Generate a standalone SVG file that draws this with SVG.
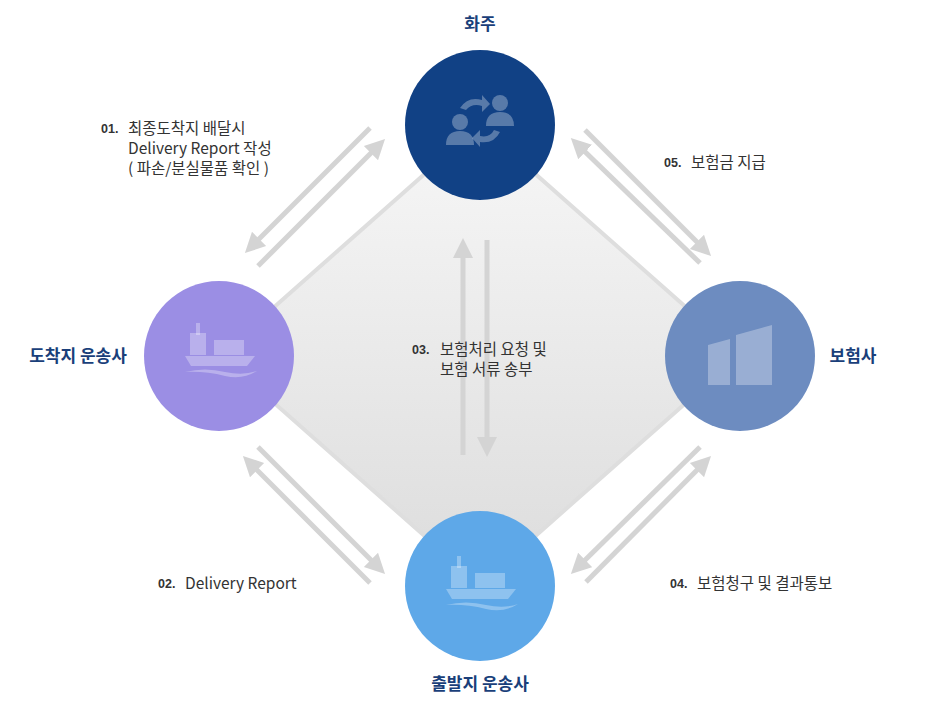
<svg xmlns="http://www.w3.org/2000/svg" width="940" height="710" viewBox="0 0 940 710">
<style>
.lbl{font-family:"Noto Sans CJK KR","Noto Sans",sans-serif;font-size:15.5px;fill:#333}
.num{font-family:"Liberation Sans",sans-serif;font-weight:bold;font-size:12.5px;fill:#333}
.ttl{font-family:"Noto Sans CJK KR",sans-serif;font-weight:bold;font-size:17px;fill:#1a3f7a}
.ar{stroke:#d4d4d4;stroke-width:5;fill:none;marker-end:url(#ah)}
.ic{fill:#ffffff;fill-opacity:0.3}
</style>
<defs>
<marker id="ah" viewBox="0 0 10 10" refX="5" refY="5" markerWidth="4" markerHeight="4.4" orient="auto" markerUnits="strokeWidth"><path d="M0,0L10,5L0,10z" fill="#d4d4d4"/></marker>
<linearGradient id="dg" x1="0" y1="0" x2="0" y2="1"><stop offset="0" stop-color="#f7f7f7"/><stop offset="1" stop-color="#dcdcdc"/></linearGradient>
</defs>
<rect width="940" height="710" fill="#fff"/>
<polygon points="480,125 740,355 480,585 220,355" fill="url(#dg)" stroke="#dedede" stroke-width="4"/>
<g id="connectors">
<line class="ar" x1="370" y1="128" x2="252" y2="246"/>
<line class="ar" x1="258" y1="266" x2="378" y2="146"/>
<line class="ar" x1="585" y1="130" x2="704" y2="249"/>
<line class="ar" x1="700" y1="263" x2="578" y2="145"/>
<line class="ar" x1="258" y1="447" x2="378" y2="567"/>
<line class="ar" x1="370" y1="583" x2="250" y2="463"/>
<line class="ar" x1="700" y1="447" x2="578" y2="567"/>
<line class="ar" x1="586" y1="582" x2="704" y2="463"/>
<line class="ar" x1="463" y1="455" x2="463" y2="248"/>
<line class="ar" x1="487" y1="240" x2="487" y2="447"/>
</g>
<g id="n-owner">
<circle cx="480" cy="125" r="75" fill="#114185"/>
<g class="ic">
<circle cx="460" cy="122" r="8"/><path d="M446,145q0,-14 14,-14q14,0 14,14z"/>
<circle cx="500" cy="103" r="8"/><path d="M486,126q0,-14 14,-14q14,0 14,14z"/>
<path d="M460,108q8,-12 22,-8l0,-5l8,9l-8,8l0,-6q-10,-3 -16,4z"/>
<path d="M500,132q-6,12 -20,10l0,5l-8,-9l8,-8l0,6q10,2 14,-6z"/>
</g>
<text class="ttl" x="480" y="30" text-anchor="middle">화주</text>
</g>
<g id="n-dest">
<circle cx="219" cy="356" r="75" fill="#9b8ee4"/>
<g class="ic">
<rect x="196" y="323" width="4" height="12"/><rect x="190" y="333" width="16" height="22"/>
<rect x="214" y="340" width="30" height="15"/>
<path d="M185,356h70l-8,10h-56z"/>
<path d="M185,372q20,-5 40,0q18,4 32,-1q-14,9 -32,5q-20,-5 -40,-4z"/>
</g>
<text class="ttl" x="78" y="362" text-anchor="middle">도착지 운송사</text>
</g>
<g id="n-ins">
<circle cx="740" cy="356" r="75" fill="#6d8cc0"/>
<g class="ic">
<path d="M708,385v-40l22,-6v46z"/><path d="M736,385v-50l36,-10v60z"/>
</g>
<text class="ttl" x="853" y="362" text-anchor="middle">보험사</text>
</g>
<g id="n-origin">
<circle cx="480" cy="586" r="75" fill="#5ea8e8"/>
<g class="ic">
<rect x="457" y="556" width="4" height="12"/><rect x="451" y="566" width="16" height="22"/>
<rect x="475" y="573" width="30" height="15"/>
<path d="M446,589h70l-8,10h-56z"/>
<path d="M446,605q20,-5 40,0q18,4 32,-1q-14,9 -32,5q-20,-5 -40,-4z"/>
</g>
<text class="ttl" x="480" y="690" text-anchor="middle">출발지 운송사</text>
</g>
<g id="labels">
<text class="num" x="101" y="133">01.</text>
<text class="lbl" x="128" y="134">최종도착지 배달시</text>
<text class="lbl" x="128" y="154">Delivery Report 작성</text>
<text class="lbl" x="128" y="174">( 파손/분실물품 확인 )</text>
<text class="num" x="158" y="588">02.</text>
<text class="lbl" x="185" y="589">Delivery Report</text>
<text class="num" x="412" y="354">03.</text>
<text class="lbl" x="440" y="355">보험처리 요청 및</text>
<text class="lbl" x="440" y="375">보험 서류 송부</text>
<text class="num" x="670" y="588">04.</text>
<text class="lbl" x="697" y="589">보험청구 및 결과통보</text>
<text class="num" x="664" y="167">05.</text>
<text class="lbl" x="691" y="168">보험금 지급</text>
</g>
</svg>
